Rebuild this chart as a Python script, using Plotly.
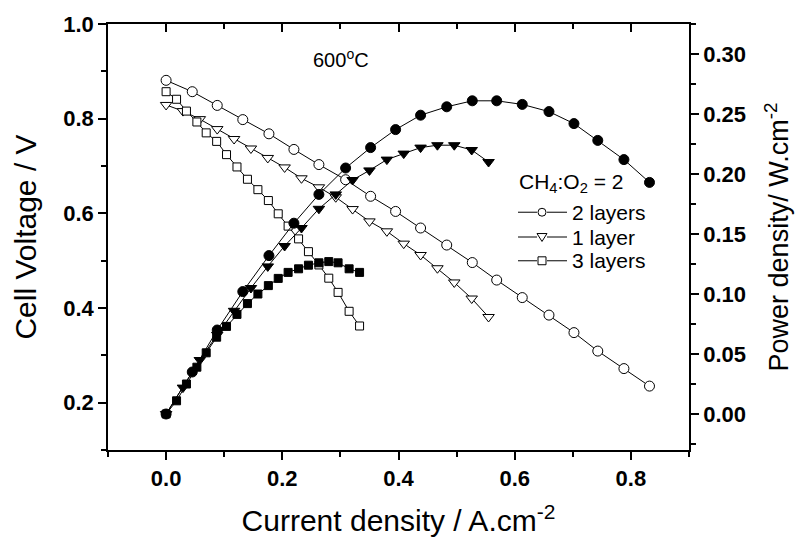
import plotly.graph_objects as go

# ---- data ----
current_2 = [0.000, 0.045, 0.088, 0.132, 0.177, 0.220, 0.263, 0.309, 0.352, 0.395,
             0.438, 0.483, 0.527, 0.569, 0.613, 0.659, 0.702, 0.743, 0.788, 0.832]
voltage_2 = [0.881, 0.857, 0.828, 0.798, 0.768, 0.735, 0.703, 0.671, 0.636, 0.604,
             0.569, 0.533, 0.496, 0.459, 0.422, 0.385, 0.348, 0.309, 0.272, 0.235]
power_2 = [0.000, 0.035, 0.070, 0.102, 0.132, 0.159, 0.183, 0.205, 0.222, 0.237,
           0.249, 0.256, 0.261, 0.261, 0.258, 0.252, 0.242, 0.228, 0.212, 0.193]

current_1 = [0.000, 0.029, 0.058, 0.088, 0.117, 0.146, 0.175, 0.204, 0.233, 0.263,
             0.292, 0.321, 0.350, 0.380, 0.409, 0.438, 0.467, 0.496, 0.526, 0.555]
voltage_1 = [0.829, 0.816, 0.799, 0.778, 0.757, 0.737, 0.717, 0.697, 0.674, 0.655,
             0.634, 0.609, 0.583, 0.562, 0.536, 0.512, 0.484, 0.454, 0.420, 0.381]
power_1 = [0.000, 0.022, 0.045, 0.066, 0.086, 0.105, 0.123, 0.140, 0.155, 0.171,
           0.183, 0.195, 0.203, 0.212, 0.217, 0.222, 0.224, 0.224, 0.220, 0.210]

current_3 = [0.000, 0.018, 0.035, 0.053, 0.069, 0.087, 0.104, 0.122, 0.140, 0.158,
             0.176, 0.193, 0.210, 0.228, 0.245, 0.263, 0.280, 0.296, 0.315, 0.333]
voltage_3 = [0.857, 0.841, 0.816, 0.793, 0.770, 0.752, 0.724, 0.698, 0.672, 0.650,
             0.627, 0.599, 0.573, 0.546, 0.519, 0.491, 0.463, 0.433, 0.393, 0.362]
power_3 = [0.000, 0.011, 0.025, 0.039, 0.051, 0.064, 0.073, 0.083, 0.092, 0.100,
           0.107, 0.113, 0.118, 0.121, 0.124, 0.126, 0.127, 0.126, 0.121, 0.118]

labels = ["2 layers", "1 layer", "3 layers"]
left_ticks = [0.2, 0.4, 0.6, 0.8, 1.0]
right_ticks = [0.00, 0.05, 0.10, 0.15, 0.20, 0.25, 0.30]
x_ticks = [0.0, 0.2, 0.4, 0.6, 0.8]

FONT = "Liberation Sans, Arial, sans-serif"
BLACK = "black"

# plot-area geometry (pixels)
W, H = 804, 546
ML, MR, MT, MB = 108, 115, 20, 96
PW, PH = W - ML - MR, H - MT - MB


def px2x(px):
    return (px - ML) / PW


def py2y(py):
    return 1 - (py - MT) / PH


series = [
    (current_2, voltage_2, power_2, "circle", 10),
    (current_1, voltage_1, power_1, "triangle-down", 10),
    (current_3, voltage_3, power_3, "square", 8),
]

fig = go.Figure()
for (cur, volt, pw, sym, sz), name in zip(series, labels):
    fig.add_trace(go.Scatter(
        x=cur, y=volt, mode="lines+markers", name=name, showlegend=False,
        line=dict(color=BLACK, width=1),
        marker=dict(symbol=sym, size=sz, color="white", line=dict(color=BLACK, width=1)),
        xaxis="x", yaxis="y"))
    fig.add_trace(go.Scatter(
        x=cur, y=pw, mode="lines+markers", name=name, showlegend=False,
        line=dict(color=BLACK, width=1),
        marker=dict(symbol=sym, size=sz, color=BLACK, line=dict(color=BLACK, width=1)),
        xaxis="x", yaxis="y2"))

# dummy trace to activate the top axis
fig.add_trace(go.Scatter(x=[None], y=[None], xaxis="x2", yaxis="y",
                         showlegend=False, hoverinfo="skip"))

tickfont = dict(family=FONT, size=22, color=BLACK, weight="bold")
titlefont = dict(family=FONT, size=30, color=BLACK)
rtitlefont = dict(family=FONT, size=27, color=BLACK)

# ---- manual legend ----
shapes = []
annotations = []
leg_x0 = 518
leg_mid = 542
leg_x1 = 567
leg_rows = [210, 235, 259]
annotations.append(dict(
    text="CH<sub>4</sub>:O<sub>2</sub> = 2", x=px2x(leg_x0 - 1), y=py2y(180),
    xref="paper", yref="paper", xanchor="left", yanchor="middle", showarrow=False,
    font=dict(family=FONT, size=21, color=BLACK)))
for (cur, volt, pw, sym, sz), name, cy in zip(series, labels, leg_rows):
    for a, b in [(leg_x0, leg_mid - 5), (leg_mid + 5, leg_x1)]:
        shapes.append(dict(type="line", xref="paper", yref="paper",
                           x0=px2x(a), x1=px2x(b), y0=py2y(cy), y1=py2y(cy),
                           line=dict(color=BLACK, width=1)))
    r = 4
    mk = dict(xref="paper", yref="paper", line=dict(color=BLACK, width=1), fillcolor="white")
    if sym == "circle":
        shapes.append(dict(type="circle", x0=px2x(leg_mid - r), x1=px2x(leg_mid + r),
                           y0=py2y(cy + r), y1=py2y(cy - r), **mk))
    elif sym == "square":
        shapes.append(dict(type="rect", x0=px2x(leg_mid - r), x1=px2x(leg_mid + r),
                           y0=py2y(cy + r), y1=py2y(cy - r), **mk))
    else:
        path = "M {:.5f} {:.5f} L {:.5f} {:.5f} L {:.5f} {:.5f} Z".format(
            px2x(leg_mid - 5), py2y(cy - 3.5), px2x(leg_mid + 5), py2y(cy - 3.5),
            px2x(leg_mid), py2y(cy + 4.5))
        shapes.append(dict(type="path", path=path, **mk))
    annotations.append(dict(
        text=name, x=px2x(leg_x1 + 3), y=py2y(cy), xref="paper", yref="paper",
        xanchor="left", yanchor="middle", showarrow=False,
        font=dict(family=FONT, size=21, color=BLACK)))

annotations.append(dict(
    text="600<sup>o</sup>C", x=px2x(341), y=py2y(55), xref="paper", yref="paper",
    xanchor="center", yanchor="middle", showarrow=False,
    font=dict(family=FONT, size=20, color=BLACK)))

fig.update_layout(
    width=W, height=H, autosize=False,
    margin=dict(l=ML, r=MR, t=MT, b=MB),
    paper_bgcolor="white", plot_bgcolor="white",
    font=dict(family=FONT, color=BLACK),
    showlegend=False,
    xaxis=dict(
        range=[-0.1, 0.9], tickvals=x_ticks, tickformat=".1f",
        ticks="outside", ticklen=8, tickwidth=1.5, tickcolor=BLACK,
        showline=True, linewidth=1.5, linecolor=BLACK, showgrid=False, zeroline=False,
        minor=dict(dtick=0.1, tick0=0, ticks="outside", ticklen=5, tickwidth=1.5, tickcolor=BLACK),
        tickfont=tickfont,
        title=dict(text="Current density / A.cm<sup>-2</sup>", font=titlefont, standoff=20),
    ),
    xaxis2=dict(
        range=[-0.1, 0.9], overlaying="x", side="top", anchor="y",
        tickvals=x_ticks, ticks="inside", ticklen=8, tickwidth=1.5, tickcolor=BLACK,
        showticklabels=False, showline=True, linewidth=1.5, linecolor=BLACK,
        showgrid=False, zeroline=False,
        minor=dict(dtick=0.1, tick0=0, ticks="inside", ticklen=5, tickwidth=1.5, tickcolor=BLACK),
    ),
    yaxis=dict(
        range=[0.1, 1.0], tickvals=left_ticks, tickformat=".1f",
        ticks="outside", ticklen=8, tickwidth=1.5, tickcolor=BLACK,
        showline=True, linewidth=1.5, linecolor=BLACK, showgrid=False, zeroline=False,
        minor=dict(dtick=0.1, tick0=0, ticks="outside", ticklen=5, tickwidth=1.5, tickcolor=BLACK),
        tickfont=tickfont,
        title=dict(text="Cell Voltage / V", font=titlefont, standoff=18),
    ),
    yaxis2=dict(
        range=[-0.03, 0.325], overlaying="y", side="right", anchor="x",
        tickvals=right_ticks, tickformat=".2f",
        ticks="outside", ticklen=8, tickwidth=1.5, tickcolor=BLACK,
        showline=True, linewidth=1.5, linecolor=BLACK, showgrid=False, zeroline=False,
        minor=dict(dtick=0.025, tick0=0, ticks="outside", ticklen=5, tickwidth=1.5, tickcolor=BLACK),
        tickfont=tickfont,
        title=dict(text="Power density/ W.cm<sup>-2</sup>", font=rtitlefont, standoff=24),
    ),
    shapes=shapes,
    annotations=annotations,
)

fig.write_html("out.html")
